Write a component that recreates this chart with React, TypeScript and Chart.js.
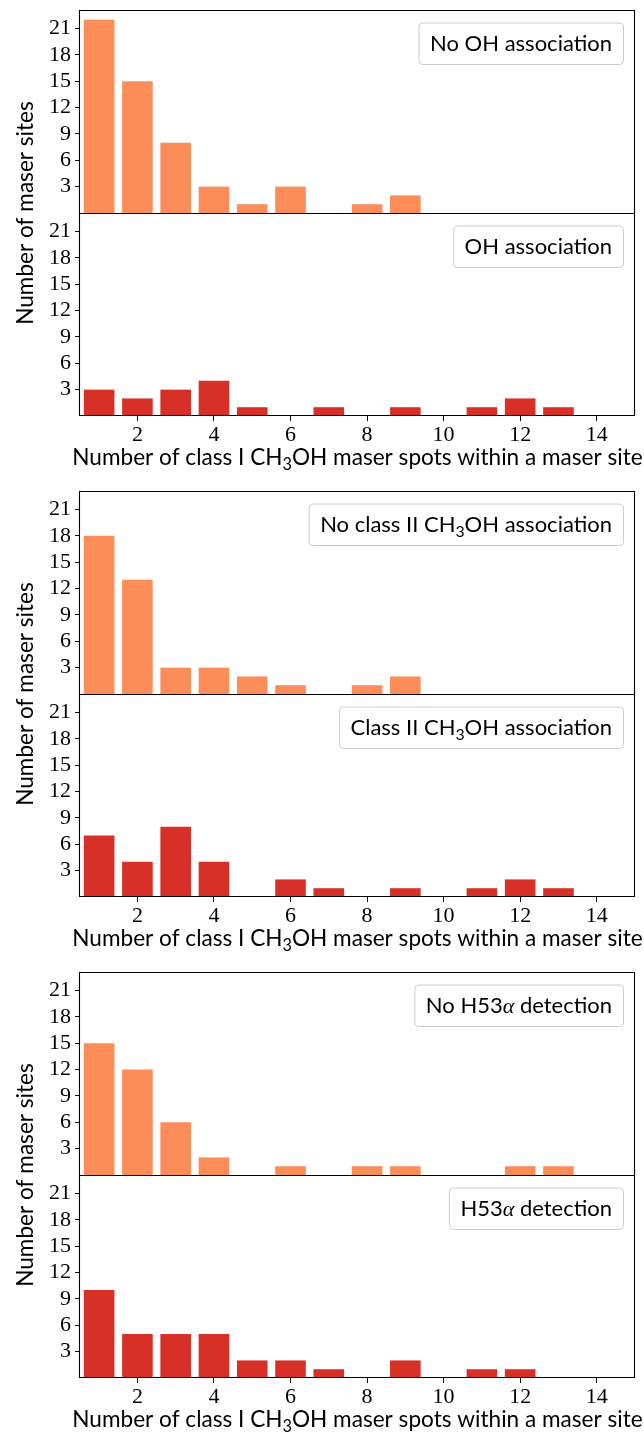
import React, { useEffect, useRef } from "react";
import { Chart, registerables } from "chart.js";

Chart.register(...registerables);

// ---------------- data ----------------
const spotCounts = [1, 2, 3, 4, 5, 6, 7, 8, 9, 10, 11, 12, 13];
const xTickValues = [2, 4, 6, 8, 10, 12, 14];
const yTickValues = [3, 6, 9, 12, 15, 18, 21];

const noOhSites = [22, 15, 8, 3, 1, 3, 0, 1, 2, 0, 0, 0, 0];
const ohSites = [3, 2, 3, 4, 1, 0, 1, 0, 1, 0, 1, 2, 1];
const noClassIISites = [18, 13, 3, 3, 2, 1, 0, 1, 2, 0, 0, 0, 0];
const classIISites = [7, 4, 8, 4, 0, 2, 1, 0, 1, 0, 1, 2, 1];
const noH53Sites = [15, 12, 6, 2, 0, 1, 0, 1, 1, 0, 0, 1, 1];
const h53Sites = [10, 5, 5, 5, 2, 2, 1, 0, 2, 0, 1, 1, 0];

const topLabels = [
  "No OH association",
  "No class II CH_{3}OH association",
  "No H53$α$ detection",
];
const bottomLabels = [
  "OH association",
  "Class II CH_{3}OH association",
  "H53$α$ detection",
];
const xAxisTitle = "Number of class I CH_{3}OH maser spots within a maser site";
const yAxisTitle = "Number of maser sites";

// ---------------- style ----------------
const ORANGE = "#fc8d59";
const RED = "#d73027";
const SANS = "Lato, 'Noto Sans', sans-serif";
const SERIF = "'Liberation Serif', 'DejaVu Serif', serif";
const LEGEND_SIZE = 22;
const TITLE_SIZE = 22.6;
const TICK_SIZE = 22;
const Y_MAX = 23.1;
const GROUP_H = 481;

type Part = { text: string; sub?: boolean; italic?: boolean };

function parseRich(s: string): Part[] {
  const parts: Part[] = [];
  const re = /_\{([^}]*)\}|\$([^$]*)\$/g;
  let last = 0;
  let m: RegExpExecArray | null;
  while ((m = re.exec(s))) {
    if (m.index > last) parts.push({ text: s.slice(last, m.index) });
    if (m[1] !== undefined) parts.push({ text: m[1], sub: true });
    else parts.push({ text: m[2], italic: true });
    last = re.lastIndex;
  }
  if (last < s.length) parts.push({ text: s.slice(last) });
  return parts;
}

function partFont(p: Part, size: number) {
  if (p.sub) return `${(size * 0.72).toFixed(1)}px ${SANS}`;
  if (p.italic) return `italic ${size}px ${SERIF}`;
  return `${size}px ${SANS}`;
}

function measureRich(ctx: CanvasRenderingContext2D, parts: Part[], size: number) {
  let w = 0;
  for (const p of parts) {
    ctx.font = partFont(p, size);
    w += ctx.measureText(p.text).width;
  }
  return w;
}

function drawRich(ctx: CanvasRenderingContext2D, parts: Part[], x: number, y: number, size: number) {
  ctx.textAlign = "left";
  ctx.textBaseline = "alphabetic";
  for (const p of parts) {
    ctx.font = partFont(p, size);
    ctx.fillText(p.text, x, y + (p.sub ? size * 0.24 : 0));
    x += ctx.measureText(p.text).width;
  }
}

const decorPlugin = {
  id: "decor",
  afterDatasetsDraw(chart: any) {
    const { ctx, chartArea } = chart;
    const { left, right, top, bottom } = chartArea;
    const mid = chart.scales.yTop.bottom;
    ctx.save();
    ctx.strokeStyle = "#000";
    ctx.lineWidth = 1.1;
    ctx.beginPath();
    ctx.rect(Math.round(left) - 0.5, Math.round(top) + 0.5, Math.round(right) - Math.round(left), Math.round(bottom) - Math.round(top) - 1);
    ctx.moveTo(left, Math.round(mid) + 0.5);
    ctx.lineTo(right, Math.round(mid) + 0.5);
    ctx.stroke();
    ctx.restore();
  },
  afterDraw(chart: any, _args: any, opts: any) {
    const { ctx, chartArea } = chart;
    ctx.save();
    ctx.fillStyle = "#000";
    // legends
    const items = [
      { axis: chart.scales.yTop, label: opts.topLabel },
      { axis: chart.scales.yBot, label: opts.bottomLabel },
    ];
    for (const it of items) {
      const parts = parseRich(it.label);
      const tw = measureRich(ctx, parts, LEGEND_SIZE);
      const bw = tw + 22.5;
      const bh = 41.5;
      const bx = chartArea.right - 11.5 - bw;
      const by = it.axis.top + 13;
      ctx.beginPath();
      (ctx as any).roundRect(bx, by, bw, bh, 4);
      ctx.fillStyle = "rgba(255,255,255,0.8)";
      ctx.fill();
      ctx.strokeStyle = "#cccccc";
      ctx.lineWidth = 1;
      ctx.stroke();
      ctx.fillStyle = "#000";
      drawRich(ctx, parts, bx + 11, by + 28, LEGEND_SIZE);
    }
    // x title
    const xp = parseRich(xAxisTitle);
    const xw = measureRich(ctx, xp, TITLE_SIZE);
    drawRich(ctx, xp, (chartArea.left + chartArea.right) / 2 - xw / 2, chartArea.bottom + 49, TITLE_SIZE);
    // y title
    const yp = parseRich(yAxisTitle);
    const yw = measureRich(ctx, yp, TITLE_SIZE);
    ctx.translate(33, (chartArea.top + chartArea.bottom) / 2);
    ctx.rotate(-Math.PI / 2);
    drawRich(ctx, yp, -yw / 2, 0, TITLE_SIZE);
    ctx.restore();
  },
};

function yScale(weight: number) {
  return {
    type: "linear",
    position: "left",
    stack: "panels",
    stackWeight: 1,
    weight,
    min: 0,
    max: Y_MAX,
    afterBuildTicks: (s: any) => {
      s.ticks = yTickValues.map((v) => ({ value: v }));
    },
    afterFit: (s: any) => {
      s.width = 80;
      s.paddingTop = 0;
      s.paddingBottom = 0;
    },
    grid: { drawOnChartArea: false, drawTicks: true, tickLength: 5, tickColor: "#000", tickWidth: 1 },
    border: { display: false },
    ticks: { font: { family: SERIF, size: TICK_SIZE }, color: "#000", padding: 4, autoSkip: false },
  };
}

function makeConfig(topData: number[], botData: number[], topLabel: string, bottomLabel: string): any {
  const ds = (vals: number[], color: string, axis: string) => ({
    data: spotCounts.map((x, i) => ({ x, y: vals[i] })),
    yAxisID: axis,
    backgroundColor: color,
    borderWidth: 0,
    barPercentage: 0.8,
    categoryPercentage: 1,
    grouped: false,
  });
  return {
    type: "bar",
    data: { datasets: [ds(topData, ORANGE, "yTop"), ds(botData, RED, "yBot")] },
    options: {
      animation: false,
      responsive: false,
      maintainAspectRatio: false,
      events: [],
      layout: { padding: { top: 10, right: 9, left: 0, bottom: 0 } },
      plugins: {
        legend: { display: false },
        tooltip: { enabled: false },
        decor: { topLabel, bottomLabel },
      },
      scales: {
        x: {
          type: "linear",
          position: "bottom",
          min: 0.5,
          max: 15,
          offset: false,
          afterBuildTicks: (s: any) => {
            s.ticks = xTickValues.map((v) => ({ value: v }));
          },
          afterFit: (s: any) => {
            s.height = 65;
            s.paddingLeft = 0;
            s.paddingRight = 0;
          },
          grid: { drawOnChartArea: false, offset: false, tickLength: 5, tickColor: "#000", tickWidth: 1 },
          border: { display: false },
          ticks: { font: { family: SERIF, size: TICK_SIZE }, color: "#000", padding: 1, maxRotation: 0, autoSkip: false },
        },
        yTop: yScale(2),
        yBot: yScale(1),
      },
    },
    plugins: [decorPlugin],
  };
}

function PanelGroup(props: { top: number[]; bottom: number[]; topLabel: string; bottomLabel: string; offset: number }) {
  const ref = useRef<HTMLCanvasElement>(null);
  useEffect(() => {
    const chart = new Chart(ref.current as HTMLCanvasElement, makeConfig(props.top, props.bottom, props.topLabel, props.bottomLabel));
    return () => chart.destroy();
  }, []);
  return (
    <canvas
      ref={ref}
      width={644}
      height={GROUP_H}
      style={{ position: "absolute", left: 0, top: props.offset, width: 644, height: GROUP_H, display: "block" }}
    />
  );
}

export default function App() {
  const groups = [
    { top: noOhSites, bottom: ohSites },
    { top: noClassIISites, bottom: classIISites },
    { top: noH53Sites, bottom: h53Sites },
  ];
  return (
    <div style={{ position: "absolute", left: 0, top: 0, width: 644, height: 1434, overflow: "hidden", background: "#fff" }}>
      {groups.map((g, i) => (
        <PanelGroup key={i} top={g.top} bottom={g.bottom} topLabel={topLabels[i]} bottomLabel={bottomLabels[i]} offset={i * GROUP_H} />
      ))}
    </div>
  );
}
